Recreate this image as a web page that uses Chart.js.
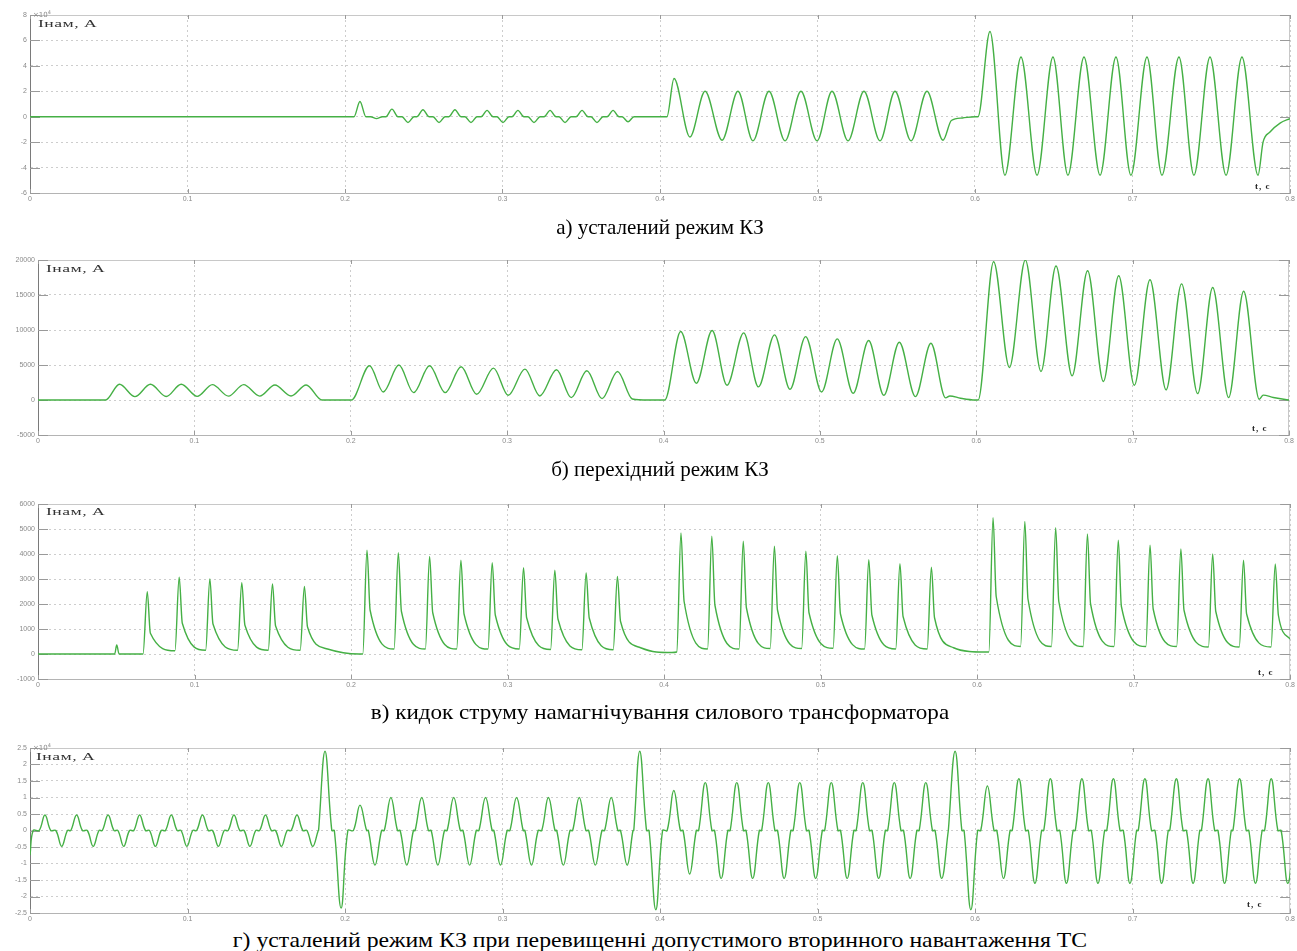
<!DOCTYPE html>
<html>
<head>
<meta charset="utf-8">
<script src="https://cdn.jsdelivr.net/npm/chart.js@4.4.0/dist/chart.umd.min.js"></script>
<style>
body{margin:0;background:#fff;width:1297px;height:951px;overflow:hidden;position:relative;font-family:'Liberation Serif','Times New Roman',serif;}
canvas{position:absolute;left:0}
.cap{position:absolute;left:0;width:1320px;text-align:center;font-size:21px;line-height:22px;color:#000;transform-origin:660px 0}
.ylab{position:absolute;font-size:11px;line-height:11px;color:#333;transform:scaleX(1.6);transform-origin:left top;letter-spacing:0.3px}
.tlab{position:absolute;font-size:9px;line-height:9px;color:#222;font-weight:bold;letter-spacing:1px}
.exp{position:absolute;font-size:7px;line-height:7px;color:#888;font-family:'DejaVu Sans',sans-serif}
.exp sup{font-size:5px}
</style>
</head>
<body>
<canvas id="chA" width="1297" height="200" style="top:5px"></canvas>
<canvas id="chB" width="1297" height="197" style="top:250px"></canvas>
<canvas id="chC" width="1297" height="197" style="top:494px"></canvas>
<canvas id="chD" width="1297" height="187" style="top:738px"></canvas>

<div class="exp" style="left:33px;top:9px">×10<sup>4</sup></div>
<div class="exp" style="left:33px;top:742px">×10<sup>4</sup></div>

<div class="ylab" style="left:38px;top:18px">Iнам, A</div>
<div class="ylab" style="left:46px;top:263px">Iнам, A</div>
<div class="ylab" style="left:46px;top:506px">Iнам, A</div>
<div class="ylab" style="left:36px;top:751px">Iнам, A</div>

<div class="tlab" style="left:1255px;top:182px">t, c</div>
<div class="tlab" style="left:1252px;top:424px">t, c</div>
<div class="tlab" style="left:1258px;top:668px">t, c</div>
<div class="tlab" style="left:1247px;top:900px">t, c</div>

<div class="cap" style="top:216px">а) усталений режим КЗ</div>
<div class="cap" style="top:458px">б) перехідний режим КЗ</div>
<div class="cap" style="top:701px;transform:scaleX(1.1)">в) кидок струму намагнічування силового трансформатора</div>
<div class="cap" style="top:929px;transform:scaleX(1.13)">г) усталений режим КЗ при перевищенні допустимого вторинного навантаження ТС</div>

<script>
// ---- panel а: I, x10^4 A ----
// small lobes between 0.2 and 0.4 s (apex time, apex value)
var aSmallT = [0.2095, 0.2200, 0.2298, 0.2400, 0.2495, 0.2597, 0.2698, 0.2800, 0.2902, 0.3003, 0.3098, 0.3200, 0.3302, 0.3397, 0.3505, 0.3600, 0.3702, 0.3797];
var aSmallI = [1.2, -0.15, 0.6, -0.45, 0.55, -0.45, 0.55, -0.45, 0.5, -0.45, 0.5, -0.45, 0.5, -0.45, 0.5, -0.45, 0.5, -0.4];
// peaks / troughs from 0.4 s to the end
var aT = [0, 0.4044, 0.4089, 0.4190, 0.4286, 0.4394, 0.4495, 0.4590, 0.4692, 0.4794, 0.4895, 0.4997, 0.5092, 0.5194, 0.5295, 0.5397, 0.5492, 0.5594, 0.5695, 0.5797, 0.5850, 0.5920, 0.6000, 0.6019,
          0.6095, 0.6190, 0.6292, 0.6394, 0.6495, 0.6590, 0.6692, 0.6794, 0.6895, 0.6990, 0.7092, 0.7187, 0.7295, 0.7390, 0.7492, 0.7594, 0.7695, 0.7797, 0.7829, 0.7873, 0.7937, 0.8];
var aI = [0, 0, 3.0, -1.6, 2.0, -1.85, 2.0, -1.9, 2.0, -1.9, 2.0, -1.9, 2.0, -1.9, 2.0, -1.9, 2.0, -1.9, 2.0, -1.85, -0.3, -0.1, 0, 0,
          6.7, -4.6, 4.7, -4.6, 4.7, -4.6, 4.7, -4.6, 4.7, -4.6, 4.7, -4.6, 4.7, -4.6, 4.7, -4.6, 4.7, -4.6, -2.0, -1.2, -0.5, -0.15];

// ---- panel б: I, A (peaks and troughs) ----
var bT = [0, 0.0432, 0.0521, 0.0620, 0.0719, 0.0820, 0.0916, 0.1018, 0.1115, 0.1218, 0.1315, 0.1418, 0.1515, 0.1618, 0.1715, 0.1815, 0.2004,
          0.2120, 0.2208, 0.2308, 0.2402, 0.2504, 0.2604, 0.2706, 0.2805, 0.2913, 0.3007, 0.3114, 0.3209, 0.3316, 0.3410, 0.3510, 0.3607, 0.3706, 0.3801, 0.3900, 0.4008,
          0.4110, 0.4210, 0.4311, 0.4406, 0.4513, 0.4607, 0.4710, 0.4809, 0.4909, 0.5011, 0.5111, 0.5213, 0.5312, 0.5409, 0.5508, 0.5611, 0.5710, 0.5804, 0.5831, 0.5900, 0.5995, 0.6012,
          0.6111, 0.6212, 0.6314, 0.6414, 0.6510, 0.6613, 0.6712, 0.6813, 0.6911, 0.7011, 0.7111, 0.7214, 0.7313, 0.7416, 0.7512, 0.7614, 0.7710, 0.7810, 0.7835, 0.7900, 0.8];
var bI = [0, 0, 2250, 480, 2250, 500, 2250, 520, 2200, 550, 2200, 560, 2150, 580, 2150, 0, 0,
          4890, 1150, 4990, 1050, 4890, 1050, 4750, 820, 4560, 670, 4410, 580, 4320, 340, 4170, 190, 4080, 150, 0, 0,
          9780, 2400, 9930, 2110, 9590, 1870, 9300, 1530, 9060, 1150, 8730, 960, 8490, 670, 8250, 480, 8110, 300, 580, 250, 0, 0,
          19760, 4650, 20000, 4080, 19140, 3450, 18470, 2640, 17750, 2110, 17170, 1440, 16590, 910, 16070, 340, 15540, 100, 700, 350, 0];

// ---- panel в: I, A (inrush spikes) ----
var cSpikeT = [0.0698, 0.0902, 0.1098, 0.1302, 0.1498, 0.1702,
               0.2102, 0.2302, 0.2502, 0.2702, 0.2902, 0.3102, 0.3302, 0.3502, 0.3702,
               0.4108, 0.4305, 0.4506, 0.4705, 0.4906, 0.5107, 0.5308, 0.5507, 0.5708,
               0.6102, 0.6305, 0.6502, 0.6705, 0.6902, 0.7105, 0.7302, 0.7505, 0.7702, 0.7905];
var cPeak = [2490, 3070, 3000, 2850, 2800, 2700,
             4150, 4050, 3900, 3750, 3650, 3450, 3350, 3240, 3100,
             4840, 4710, 4510, 4310, 4110, 3930, 3770, 3610, 3470,
             5450, 5300, 5050, 4800, 4550, 4350, 4200, 4000, 3750, 3600];
var cKnee = [830, 1230, 1200, 1150, 1120, 1080,
             1750, 1700, 1650, 1600, 1550, 1450, 1400, 1440, 1300,
             2100, 1950, 1850, 1750, 1650, 1600, 1550, 1500, 1450,
             2300, 2200, 2100, 2000, 1900, 1800, 1750, 1700, 1600, 1550];
var cBase = [0, 130, 150, 150, 150, 150,
             0, 200, 200, 200, 200, 200, 180, 170, 170,
             80, 200, 200, 220, 220, 230, 200, 200, 200,
             80, 300, 300, 300, 300, 300, 300, 280, 280, 280];
// flat parts, small first spike and decays after each group
var cT = [0, 0.0490, 0.0503, 0.0518, 0.1850, 0.1950, 0.2050, 0.3850, 0.3950, 0.4050, 0.5850, 0.5950, 0.6050, 0.8];
var cI = [0, 0, 360, 0, 200, 50, 0, 250, 80, 60, 250, 100, 80, 600];

// ---- panel г: I, x10^4 A (lobes) ----
var dSmallT = [0.0095, 0.0201, 0.0296, 0.0401, 0.0496, 0.0595, 0.0696, 0.0796, 0.0897, 0.0996, 0.1095, 0.1196, 0.1295, 0.1396, 0.1495, 0.1596, 0.1695, 0.1795];
var dSmallI = [0.47, -0.48, 0.47, -0.48, 0.47, -0.48, 0.47, -0.48, 0.47, -0.48, 0.47, -0.48, 0.47, -0.48, 0.47, -0.48, 0.47, -0.48];
var dBigT = [0.1873, 0.1975, 0.3871, 0.3973, 0.5873, 0.5973];
var dBigI = [2.4, -2.35, 2.4, -2.4, 2.4, -2.4];
var dT = [0.2095, 0.2190, 0.2291, 0.2392, 0.2487, 0.2589, 0.2690, 0.2791, 0.2892, 0.2987, 0.3089, 0.3184, 0.3291, 0.3386, 0.3487, 0.3589, 0.3690, 0.3791,
          0.4087, 0.4188, 0.4287, 0.4388, 0.4487, 0.4588, 0.4687, 0.4788, 0.4887, 0.4988, 0.5087, 0.5188, 0.5287, 0.5388, 0.5487, 0.5588, 0.5687, 0.5788,
          0.6078, 0.6180, 0.6278, 0.6380, 0.6478, 0.6580, 0.6678, 0.6780, 0.6878, 0.6983, 0.7078, 0.7184, 0.7278, 0.7384, 0.7479, 0.7584, 0.7679, 0.7780, 0.7880, 0.7985];
var dI = [0.77, -1.05, 1.0, -1.05, 1.0, -1.05, 1.0, -1.05, 1.0, -1.05, 1.0, -1.05, 1.0, -1.05, 1.0, -1.05, 1.0, -1.05,
          1.21, -1.32, 1.45, -1.45, 1.45, -1.45, 1.45, -1.45, 1.45, -1.45, 1.45, -1.45, 1.45, -1.45, 1.45, -1.45, 1.45, -1.45,
          1.35, -1.45, 1.57, -1.6, 1.57, -1.6, 1.57, -1.6, 1.57, -1.6, 1.57, -1.6, 1.57, -1.6, 1.57, -1.6, 1.57, -1.6, 1.57, -1.6];
var dStartT = [0, 0.002];
var dStartI = [-0.75, 0];

var xTicks = [0, 0.1, 0.2, 0.3, 0.4, 0.5, 0.6, 0.7, 0.8];

// helpers building {x,y} points for the library
function pts(ts, vs) {
  return ts.map(function (t, i) { return {x: t, y: vs[i]}; });
}
// a lobe: back to zero on both sides of its apex
function lobes(ts, vs, hw) {
  var out = [];
  ts.forEach(function (t, i) {
    out.push({x: t - hw, y: 0}, {x: t, y: vs[i]}, {x: t + hw, y: 0});
  });
  return out;
}
// a spike: rise from base, peak, fast drop to knee
function spikes(ts, peaks, knees, bases) {
  var out = [];
  ts.forEach(function (t, i) {
    out.push({x: t - 0.0027, y: bases[i]}, {x: t, y: peaks[i]}, {x: t + 0.002, y: knees[i]});
  });
  return out;
}
function merge() {
  var all = [].concat.apply([], arguments).sort(function (p, q) { return p.x - q.x; });
  return all.filter(function (p, i) { return i === 0 || p.x > all[i - 1].x; });
}

var framePlugin = {
  id: 'frame',
  beforeDatasetsDraw: function (chart) {
    var ctx = chart.ctx, a = chart.chartArea, x = chart.scales.x, y = chart.scales.y;
    ctx.save();
    ctx.lineWidth = 1;
    ctx.strokeStyle = '#c8c8c8';
    ctx.beginPath();
    ctx.moveTo(a.left, a.top + 0.5);
    ctx.lineTo(a.right - 0.5, a.top + 0.5);
    ctx.lineTo(a.right - 0.5, a.bottom);
    ctx.stroke();
    ctx.strokeStyle = '#9a9a9a';
    ctx.beginPath();
    y.ticks.forEach(function (t) {
      var py = Math.round(y.getPixelForValue(t.value)) + 0.5;
      ctx.moveTo(a.left, py); ctx.lineTo(a.left + 10, py);
      ctx.moveTo(a.right - 10, py); ctx.lineTo(a.right, py);
    });
    x.ticks.forEach(function (t) {
      var px = Math.round(x.getPixelForValue(t.value)) + 0.5;
      ctx.moveTo(px, a.bottom); ctx.lineTo(px, a.bottom - 4);
      ctx.moveTo(px, a.top); ctx.lineTo(px, a.top + 4);
    });
    ctx.stroke();
    ctx.restore();
  }
};

function label(v) { return String(+Number(v).toFixed(1)); }

function makeChart(id, data, yMin, yMax, yStep, yWidth, padRight, mode) {
  return new Chart(document.getElementById(id), {
    type: 'line',
    data: {
      datasets: [{
        data: data,
        borderColor: '#45b045',
        borderWidth: 1.4,
        pointRadius: 0,
        fill: false,
        cubicInterpolationMode: mode,
        tension: 0.4
      }]
    },
    options: {
      responsive: false,
      animation: false,
      parsing: false,
      layout: {autoPadding: false, padding: {top: 10, right: padRight, left: 0, bottom: 0}},
      plugins: {legend: {display: false}, tooltip: {enabled: false}},
      scales: {
        x: {
          type: 'linear', min: 0, max: 0.8,
          afterBuildTicks: function (s) { s.ticks = xTicks.map(function (v) { return {value: v}; }); },
          afterFit: function (s) { s.height = 12; },
          ticks: {font: {size: 7}, color: '#8a8a8a', padding: 2, maxRotation: 0, callback: label},
          grid: {color: '#cdcdcd', drawTicks: false},
          border: {color: '#b4b4b4', dash: [2, 3]}
        },
        y: {
          min: yMin, max: yMax,
          afterFit: function (s) { s.width = yWidth; },
          ticks: {stepSize: yStep, font: {size: 7}, color: '#8a8a8a', padding: 3, callback: label},
          grid: {color: '#cdcdcd', drawTicks: false},
          border: {color: '#7a7a7a', dash: [2, 3]}
        }
      }
    },
    plugins: [framePlugin]
  });
}

makeChart('chA', merge(pts(aT, aI), lobes(aSmallT, aSmallI, 0.0038)), -6, 8, 2, 30, 7, 'monotone');
makeChart('chB', pts(bT, bI), -5000, 20000, 5000, 38, 8, 'monotone');
makeChart('chC', merge(pts(cT, cI), spikes(cSpikeT, cPeak, cKnee, cBase)), -1000, 6000, 1000, 38, 0, 'monotone');
makeChart('chD', merge(pts(dStartT, dStartI), lobes(dSmallT, dSmallI, 0.0037), lobes(dBigT, dBigI, 0.0043), lobes(dT, dI, 0.0042)), -2.5, 2.5, 0.5, 30, 3, 'default');
</script>
</body>
</html>
